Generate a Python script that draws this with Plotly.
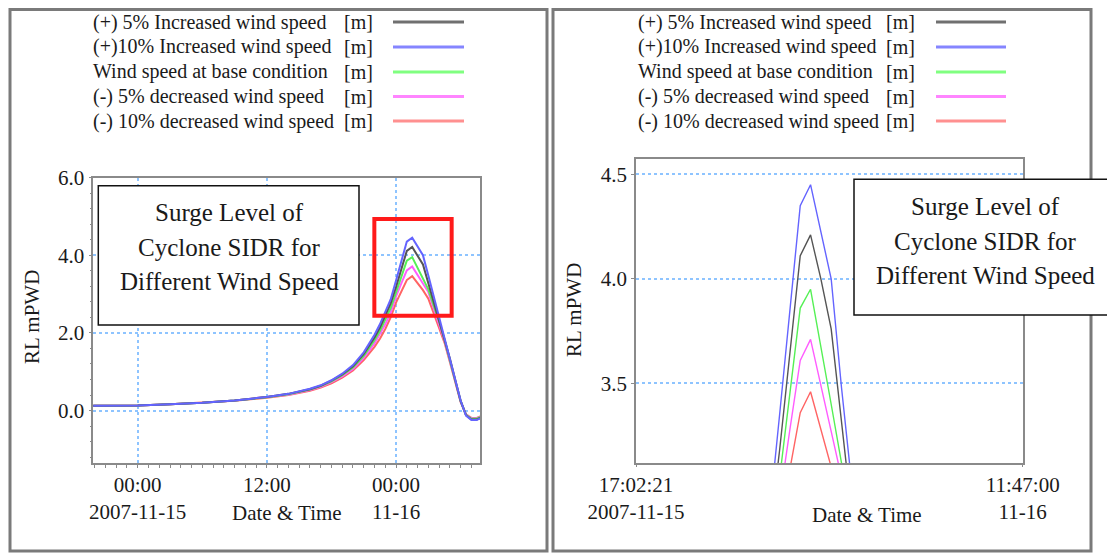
import plotly.graph_objects as go

W, H = 1107, 554

# ---------------- data ----------------
times = [
    "2007-11-14 19:30", "2007-11-15 00:00", "2007-11-15 03:00", "2007-11-15 06:00",
    "2007-11-15 09:00", "2007-11-15 12:00", "2007-11-15 14:00", "2007-11-15 16:00",
    "2007-11-15 17:00", "2007-11-15 18:00", "2007-11-15 19:00", "2007-11-15 20:00",
    "2007-11-15 21:00", "2007-11-15 22:00", "2007-11-15 22:30", "2007-11-15 23:00",
    "2007-11-15 23:30", "2007-11-16 00:00", "2007-11-16 00:30", "2007-11-16 01:00",
    "2007-11-16 01:30", "2007-11-16 02:00", "2007-11-16 02:30", "2007-11-16 03:00",
    "2007-11-16 03:30", "2007-11-16 04:00", "2007-11-16 04:30", "2007-11-16 05:00",
    "2007-11-16 05:30", "2007-11-16 06:00", "2007-11-16 06:30", "2007-11-16 07:00",
    "2007-11-16 07:30", "2007-11-16 08:00",
]

plus5 = [0.12, 0.13, 0.16, 0.20, 0.26, 0.35, 0.43, 0.55, 0.64, 0.77, 0.93,
         1.14, 1.46, 1.88, 2.14, 2.43, 2.76, 3.18, 3.65, 4.11, 4.21, 4.00, 3.76,
         3.28, 2.80, 2.36, 1.87, 1.34, 0.79, 0.25, -0.12, -0.23, -0.23, -0.17]
plus10 = [0.12, 0.13, 0.16, 0.20, 0.26, 0.35, 0.43, 0.56, 0.65, 0.78, 0.95,
          1.17, 1.50, 1.95, 2.22, 2.52, 2.86, 3.35, 3.85, 4.35, 4.45, 4.23, 4.00,
          3.48, 2.94, 2.42, 1.90, 1.36, 0.80, 0.26, -0.13, -0.24, -0.24, -0.18]
base = [0.12, 0.13, 0.16, 0.20, 0.26, 0.34, 0.42, 0.54, 0.63, 0.75, 0.91,
        1.11, 1.41, 1.81, 2.05, 2.33, 2.64, 3.04, 3.44, 3.86, 3.95, 3.68, 3.40,
        3.12, 2.70, 2.30, 1.83, 1.31, 0.77, 0.24, -0.11, -0.21, -0.21, -0.15]
minus5 = [0.12, 0.13, 0.16, 0.20, 0.26, 0.34, 0.41, 0.53, 0.61, 0.73, 0.88,
          1.07, 1.36, 1.73, 1.96, 2.22, 2.52, 2.94, 3.28, 3.61, 3.71, 3.49, 3.27,
          3.05, 2.63, 2.24, 1.80, 1.29, 0.76, 0.23, -0.10, -0.20, -0.20, -0.14]
minus10 = [0.12, 0.13, 0.16, 0.20, 0.25, 0.33, 0.40, 0.51, 0.59, 0.70, 0.85,
           1.03, 1.30, 1.64, 1.85, 2.10, 2.40, 2.78, 3.09, 3.36, 3.46, 3.28, 3.10,
           2.88, 2.52, 2.16, 1.75, 1.25, 0.74, 0.22, -0.10, -0.19, -0.19, -0.13]

series_names = [
    "(+) 5% Increased wind speed",
    "(+)10% Increased wind speed",
    "Wind speed at base condition",
    "(-) 5% decreased wind speed",
    "(-) 10% decreased wind speed",
]
series_unit = "[m]"
series_values = [plus5, plus10, base, minus5, minus10]
series_colors = ["#555555", "#6464ff", "#55f055", "#ff5cff", "#ff6464"]
legend_colors = ["#707070", "#8585ff", "#80ff80", "#ff85ff", "#ff9090"]

left_xticks = ["2007-11-15 00:00", "2007-11-15 12:00", "2007-11-16 00:00"]
left_xticktext = ["00:00<br>2007-11-15", "12:00", "00:00<br>11-16"]
left_xrange = ["2007-11-14 19:52:26", "2007-11-16 07:48:00"]
left_yticks = [0, 2, 4, 6]
left_yrange = [-1.35, 6.0]

right_xticks = ["2007-11-15 17:02:21", "2007-11-16 11:47:00"]
right_xticktext = ["17:02:21<br>2007-11-15", "11:47:00<br>11-16"]
right_yticks = [3.5, 4.0, 4.5]
right_yrange = [3.119, 4.573]

box_lines = ["Surge Level of", "Cyclone SIDR for", "Different Wind Speed"]
zoom_box_x = ["2007-11-15 21:59", "2007-11-16 05:10"]
zoom_box_y = [2.44, 4.93]

# ---------------- helpers ----------------
def px(x):
    return x / W


def py(y):
    return 1 - y / H


FONT = "Liberation Serif"
TXT = "#1a1a1a"
GRID = "#8ec4ff"
AX = "#8a8a8a"

fig = go.Figure()

draw_order = [4, 3, 2, 0, 1]
for i in draw_order:
    for xa, ya, w in (("x", "y", 2.0), ("x2", "y2", 1.4)):
        fig.add_trace(go.Scatter(
            x=times, y=series_values[i], xaxis=xa, yaxis=ya, mode="lines",
            line=dict(color=series_colors[i], width=w), name=series_names[i],
            showlegend=False, hoverinfo="skip"))

tickfont = dict(family=FONT, size=21, color=TXT)
common_x = dict(type="date", linecolor=AX, linewidth=1.5, mirror=True,
                tickfont=tickfont, ticks="outside", ticklen=2, tickcolor=AX,
                zeroline=False, showspikes=False, automargin=False)
common_y = dict(linecolor=AX, linewidth=1.5, mirror=True, tickfont=tickfont,
                ticks="outside", ticklen=3, tickcolor=AX, zeroline=False,
                tickformat=".1f", showgrid=True, gridcolor=GRID, gridwidth=1.5,
                griddash="dot", automargin=False)

fig.update_layout(
    width=W, height=H, margin=dict(l=0, r=0, t=0, b=0, pad=0, autoexpand=False),
    paper_bgcolor="white", plot_bgcolor="white", showlegend=False,
    font=dict(family=FONT, size=20, color=TXT),
    xaxis=dict(domain=[px(93.3), px(480)], anchor="y", range=left_xrange,
               tickmode="array", tickvals=left_xticks, ticktext=left_xticktext,
               showgrid=True, gridcolor=GRID, gridwidth=1.5, griddash="dot",
               minor=dict(dtick=3600000, ticks="outside", ticklen=3,
                          tickcolor=AX, showgrid=False),
               **common_x),
    yaxis=dict(domain=[py(463), py(177.5)], anchor="x", range=left_yrange,
               tickmode="array", tickvals=left_yticks,
               minor=dict(dtick=0.4, ticks="outside", ticklen=2,
                          tickcolor=AX, showgrid=False),
               **common_y),
    xaxis2=dict(domain=[px(636), px(1022.7)], anchor="y2", range=right_xticks,
                tickmode="array", tickvals=right_xticks,
                ticktext=right_xticktext, showgrid=False, **common_x),
    yaxis2=dict(domain=[py(463), py(159)], anchor="x2", range=right_yrange,
                tickmode="array", tickvals=right_yticks, **common_y),
)

shapes = []
annotations = []

# panel frames
for x0, x1 in ((10, 547), (553, 1091)):
    shapes.append(dict(type="rect", xref="paper", yref="paper",
                       x0=px(x0), x1=px(x1), y0=py(551), y1=py(9.5),
                       line=dict(color="#7a7a7a", width=3), layer="above"))

# red zoom box on left chart
shapes.append(dict(type="rect", xref="x", yref="y",
                   x0=zoom_box_x[0], x1=zoom_box_x[1],
                   y0=zoom_box_y[0], y1=zoom_box_y[1],
                   line=dict(color="#ff1a1a", width=4), layer="above"))

# text boxes
for (bx0, bx1, by0, by1, cx, ys) in (
        (98.3, 359, 185.7, 325, 229.5, (212, 247, 281)),
        (854, 1116, 179.3, 315, 985, (206.5, 241.5, 275.5))):
    shapes.append(dict(type="rect", xref="paper", yref="paper",
                       x0=px(bx0), x1=px(bx1), y0=py(by1), y1=py(by0),
                       fillcolor="white", line=dict(color="#111111", width=1.5),
                       layer="above"))
    for line_text, yy in zip(box_lines, ys):
        annotations.append(dict(text=line_text, xref="paper", yref="paper",
                                x=px(cx), y=py(yy), xanchor="center",
                                yanchor="middle", showarrow=False,
                                font=dict(family=FONT, size=25, color=TXT)))

# legends
legend_rows = [22, 47, 72, 96.5, 121]
for (tx, ux, lx0, lx1) in ((91, 375, 393, 464), (636, 917, 936, 1006)):
    for name, col, yy in zip(series_names, legend_colors, legend_rows):
        annotations.append(dict(text=name, xref="paper", yref="paper",
                                x=px(tx), y=py(yy), xanchor="left",
                                yanchor="middle", showarrow=False,
                                font=dict(family=FONT, size=20, color=TXT)))
        annotations.append(dict(text=series_unit, xref="paper", yref="paper",
                                x=px(ux), y=py(yy), xanchor="right",
                                yanchor="middle", showarrow=False,
                                font=dict(family=FONT, size=20, color=TXT)))
        shapes.append(dict(type="line", xref="paper", yref="paper",
                           x0=px(lx0), x1=px(lx1), y0=py(yy), y1=py(yy),
                           line=dict(color=col, width=3), layer="above"))

# axis titles
for (x, y) in ((287, 513), (867, 515)):
    annotations.append(dict(text="Date &amp; Time", xref="paper", yref="paper",
                            x=px(x), y=py(y), xanchor="center",
                            yanchor="middle", showarrow=False,
                            font=dict(family=FONT, size=21, color=TXT)))
for (x, y) in ((32, 317), (574, 310)):
    annotations.append(dict(text="RL mPWD", xref="paper", yref="paper",
                            x=px(x), y=py(y), xanchor="center",
                            yanchor="middle", showarrow=False, textangle=-90,
                            font=dict(family=FONT, size=21, color=TXT)))

fig.update_layout(shapes=shapes, annotations=annotations)
fig.write_html("out.html")
